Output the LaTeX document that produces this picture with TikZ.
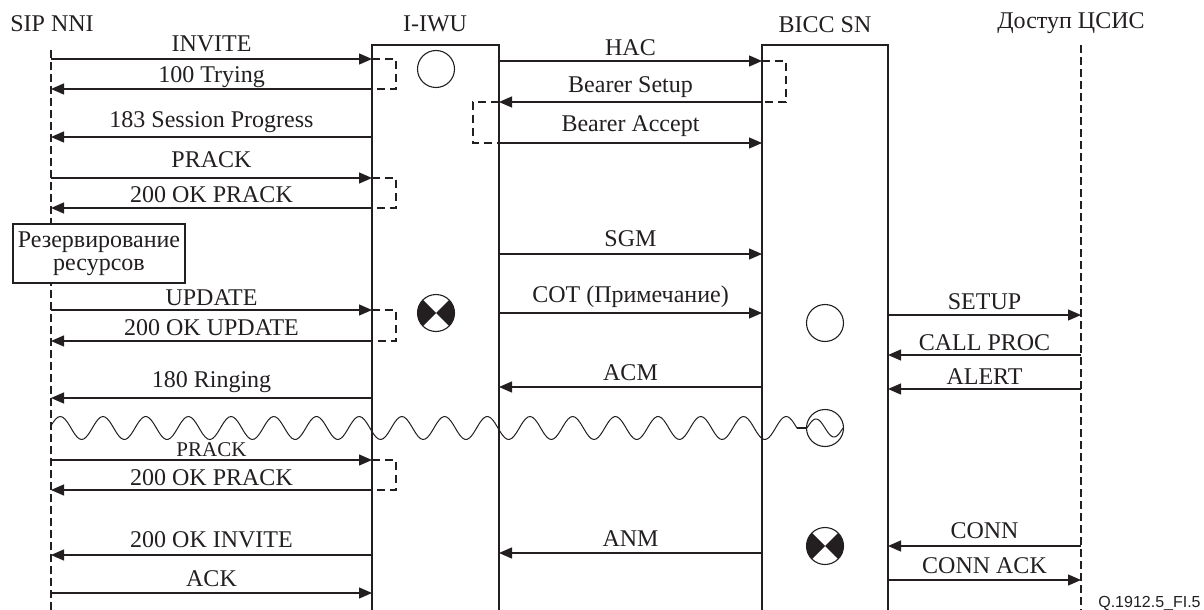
\documentclass[tikz,border=0pt]{standalone}
\usepackage{fontspec}
\setmainfont{Liberation Serif}
\newfontfamily\figfont{Liberation Sans}
\usetikzlibrary{arrows.meta}
\definecolor{ink}{RGB}{35,31,32}

\begin{document}
\begin{tikzpicture}[x=0.5pt,y=-0.5pt,
    every node/.style={text=ink},
    title/.style={anchor=base, inner sep=0pt, font=\fontsize{12pt}{14pt}\selectfont},
    lbl/.style={above, inner sep=0pt, text depth=0pt, yshift=3pt, font=\fontsize{12pt}{14pt}\selectfont},
    msg/.style={draw=ink, line width=0.65pt, -{Triangle[length=6.5pt,width=5.5pt]}},
    life/.style={draw=ink, line width=0.55pt, dash pattern=on 4pt off 2pt},
    frame/.style={draw=ink, line width=0.6pt},
    guard/.style={draw=ink, line width=0.55pt, dash pattern=on 4pt off 2.5pt},
    idle/.style={circle, draw=ink, line width=0.55pt, minimum size=18.5pt, inner sep=0pt},
    busy/.style={idle, path picture={
        \fill[ink] (path picture bounding box.center) -- ++(135:10pt) arc[start angle=135, end angle=225, radius=10pt] -- cycle;
        \fill[ink] (path picture bounding box.center) -- ++(-45:10pt) arc[start angle=-45, end angle=45, radius=10pt] -- cycle;}},
    resbox/.style={draw=ink, fill=white, line width=0.6pt, align=center, inner sep=0pt,
        minimum width=86pt, minimum height=29.5pt, font=\fontsize{12pt}{11.5pt}\selectfont}]
  \useasboundingbox (0,0) rectangle (1204,610);

  % lifeline heads
  \node[title] (tSip) at (52,32) {SIP NNI};
  \node[title] (tIwu) at (435,32) {I-IWU};
  \node[title] (tBicc) at (825,33) {BICC SN};
  \node[title] (tIsdn) at (1071,29) {Доступ ЦСИС};
  \coordinate (sip) at (51,50);
  \coordinate (iwuL) at (372,45);
  \coordinate (iwuR) at (499,45);
  \coordinate (bicL) at (762,45);
  \coordinate (bicR) at (888,45);
  \coordinate (isdn) at (1081,45);
  \coordinate (bot) at (0,610);

  \draw[life] (sip) -- (sip |- bot);
  \draw[life] (isdn) -- (isdn |- bot);
  \draw[frame] (iwuL |- bot) -- (iwuL) -- (iwuR) -- (iwuR |- bot);
  \draw[frame] (bicL |- bot) -- (bicL) -- (bicR) -- (bicR |- bot);

  % timer brackets
  \draw[guard] (iwuL |- 0,59) -| (396,89) -- (iwuL |- 0,89);
  \draw[guard] (iwuL |- 0,178) -| (396,208) -- (iwuL |- 0,208);
  \draw[guard] (iwuL |- 0,310) -| (396,341) -- (iwuL |- 0,341);
  \draw[guard] (iwuL |- 0,460) -| (396,490) -- (iwuL |- 0,490);
  \draw[guard] (bicL |- 0,61) -| (786,102) -- (bicL |- 0,102);
  \draw[guard] (iwuR |- 0,102) -| (473,143) -- (iwuR |- 0,143);

  % SIP NNI <-> I-IWU
  \draw[msg] (sip |- 0,59) -- node[lbl, yshift=0.5pt]{INVITE} (iwuL |- 0,59);
  \draw[msg] (iwuL |- 0,89) -- node[lbl]{100 Trying} (sip |- 0,89);
  \draw[msg] (iwuL |- 0,137) -- node[lbl, yshift=1.5pt]{183 Session Progress} (sip |- 0,137);
  \draw[msg] (sip |- 0,178) -- node[lbl, yshift=2pt]{PRACK} (iwuL |- 0,178);
  \draw[msg] (iwuL |- 0,208) -- node[lbl, yshift=-0.5pt]{200 OK PRACK} (sip |- 0,208);
  \draw[msg] (sip |- 0,310) -- node[lbl, yshift=-1pt]{UPDATE} (iwuL |- 0,310);
  \draw[msg] (iwuL |- 0,341) -- node[lbl, yshift=-0.5pt]{200 OK UPDATE} (sip |- 0,341);
  \draw[msg] (iwuL |- 0,398) -- node[lbl, yshift=2pt]{180 Ringing} (sip |- 0,398);
  \draw[msg] (sip |- 0,460) -- node[lbl, yshift=-1.5pt, font=\fontsize{10.5pt}{12pt}\selectfont]{PRACK} (iwuL |- 0,460);
  \draw[msg] (iwuL |- 0,490) -- node[lbl, yshift=-1pt]{200 OK PRACK} (sip |- 0,490);
  \draw[msg] (iwuL |- 0,555) -- node[lbl, yshift=0.5pt]{200 OK INVITE} (sip |- 0,555);
  \draw[msg] (sip |- 0,593) -- node[lbl]{ACK} (iwuL |- 0,593);

  % I-IWU <-> BICC SN
  \draw[msg] (iwuR |- 0,61) -- node[lbl, yshift=-0.5pt]{HAC} (bicL |- 0,61);
  \draw[msg] (bicL |- 0,102) -- node[lbl, yshift=1.5pt]{Bearer Setup} (iwuR |- 0,102);
  \draw[msg] (iwuR |- 0,143) -- node[lbl, yshift=2.5pt]{Bearer Accept} (bicL |- 0,143);
  \draw[msg] (iwuR |- 0,254) -- node[lbl, yshift=0.5pt]{SGM} (bicL |- 0,254);
  \draw[msg] (iwuR |- 0,313) -- node[lbl, yshift=2pt]{COT (Примечание)} (bicL |- 0,313);
  \draw[msg] (bicL |- 0,387) -- node[lbl]{ACM} (iwuR |- 0,387);
  \draw[msg] (bicL |- 0,553) -- node[lbl]{ANM} (iwuR |- 0,553);

  % BICC SN <-> access
  \draw[msg] (bicR |- 0,315) -- node[lbl, yshift=-0.5pt]{SETUP} (isdn |- 0,315);
  \draw[msg] (isdn |- 0,355) -- node[lbl, yshift=-1pt]{CALL PROC} (bicR |- 0,355);
  \draw[msg] (isdn |- 0,389) -- node[lbl, yshift=-1pt]{ALERT} (bicR |- 0,389);
  \draw[msg] (isdn |- 0,546) -- node[lbl, yshift=0.5pt]{CONN} (bicR |- 0,546);
  \draw[msg] (bicR |- 0,580) -- node[lbl]{CONN ACK} (isdn |- 0,580);

  % ringing tone
  \draw[ink, line width=0.5pt] plot[domain=51:797, samples=320, smooth] (\x,{428-11.5*cos(8.4309*(\x-103))});
  \node[idle] (tone) at (825,428) {};
  \draw[ink, line width=0.5pt] plot[domain=807:843, samples=30, smooth] (\x,{428-9*sin(10*(\x-807))});
  \coordinate (waveEnd) at (797,428);
  \draw[ink, line width=1.2pt] (waveEnd) -- (tone.west);

  % states
  \node[idle] (iwuIdle) at (436,69) {};
  \node[busy] (iwuBusy) at (436,313) {};
  \node[idle] (bicIdle) at (825,323) {};
  \node[busy] (bicBusy) at (825,546) {};

  \node[resbox] (res) at (99,253.5) {Резервирование\\ресурсов};

  \node[anchor=base east, inner sep=0pt, font=\figfont\fontsize{8pt}{9pt}\selectfont] (figId) at (1201,607) {Q.1912.5\_FI.5};
\end{tikzpicture}
\end{document}
